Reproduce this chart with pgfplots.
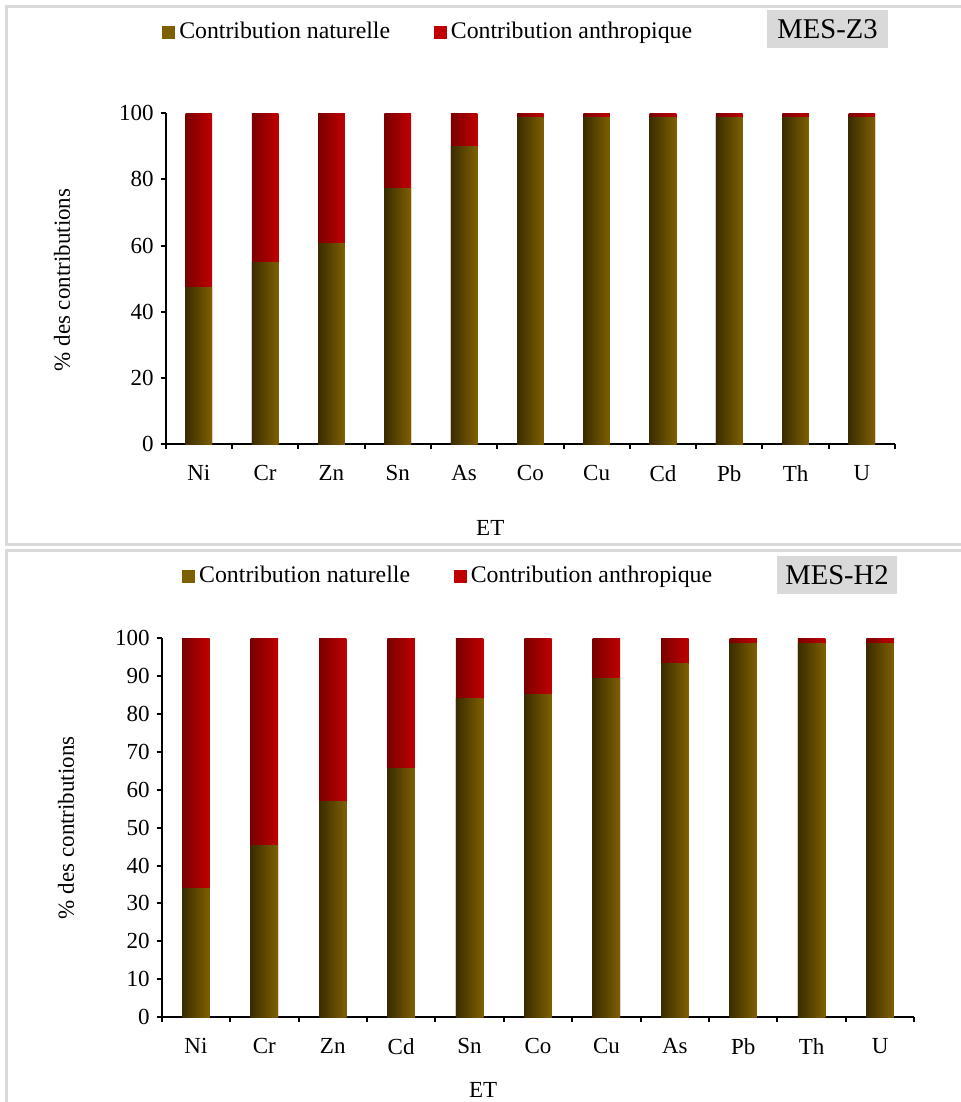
\documentclass[border=0pt]{standalone}
\usepackage{pgfplots}
\pgfplotsset{compat=1.18}
\usepackage{fontspec}
\setmainfont{Liberation Serif}
\definecolor{nat}{HTML}{7F6000}
\definecolor{natdark}{HTML}{3A2C00}
\definecolor{natlight}{HTML}{9E7E1E}
\definecolor{ant}{HTML}{C00000}
\definecolor{antdark}{HTML}{7A0000}
\definecolor{antlight}{HTML}{E61818}
\definecolor{framegray}{HTML}{D9D9D9}
\definecolor{boxgray}{HTML}{D9D9D9}

\pgfplotsset{
  mystyle/.style={
    scale only axis,
    axis lines*=left,
    xmin=-0.5, xmax=10.5, ymin=0, ymax=100,
    xtick={-0.5,0.5,1.5,2.5,3.5,4.5,5.5,6.5,7.5,8.5,9.5,10.5},
    x tick label as interval,
    tick align=outside,
    major tick length=2.5pt,
    axis line style={line width=1pt, black},
    tick style={black, line width=1pt},
    tick label style={font=\fontsize{11.5}{13}\selectfont},
    xticklabel style={yshift=-4.5pt},
    label style={font=\fontsize{11.5}{13}\selectfont},
    /pgf/number format/assume math mode=true,
    legend columns=2,
    legend style={draw=none, fill=none, inner sep=0pt, anchor=west,
      font=\fontsize{11.9}{13}\selectfont,
      /tikz/every even column/.append style={column sep=20pt}},
  },
  natbar/.style={ybar, bar shift=0pt, draw=none, left color=natdark, middle color=natlight, right color=nat, forget plot},
  antbar/.style={ybar, bar shift=0pt, draw=none, left color=antdark, middle color=antlight, right color=ant, forget plot},
}
% #1 = category position, #2 = total (naturelle + anthropique), #3 = naturelle
\newcommand\cyl[3]{%
  \addplot[antbar] coordinates {(#1,#2)};
  \addplot[natbar] coordinates {(#1,#3)};
}

\begin{document}
\begin{tikzpicture}
\useasboundingbox (0,0) rectangle (480pt,-551pt);
\draw[line width=1.5pt, framegray] (3pt,-3.5pt) rectangle (495pt,-272pt);
\draw[line width=1.5pt, framegray] (3pt,-275pt) rectangle (495pt,-565pt);

\begin{axis}[mystyle,
  at={(82.85pt,-222pt)}, anchor=south west,
  width=364.65pt, height=165.35pt,
  bar width=13.3pt,
  ytick={0,20,40,60,80,100},
  xticklabels={Ni,Cr,Zn,Sn,As,Co,Cu,Cd,Pb,Th,U},
  xlabel={ET}, ylabel={\% des contributions},
  xlabel style={at={(axis description cs:0.445,0)}, anchor=center, yshift=-42pt},
  ylabel style={at={(axis description cs:0,0.496)}, anchor=center, yshift=51.8pt},
  legend style={at={(axis description cs:-0.005,1.246)}},
]
% MES-Z3: Ni Cr Zn Sn As Co Cu Cd Pb Th U (naturelle %, anthropique = 100 - naturelle)
\cyl{0}{100}{47.4}
\cyl{1}{100}{54.8}
\cyl{2}{100}{60.5}
\cyl{3}{100}{77.3}
\cyl{4}{100}{90.0}
\cyl{5}{100}{98.7}
\cyl{6}{100}{98.7}
\cyl{7}{100}{98.7}
\cyl{8}{100}{98.7}
\cyl{9}{100}{98.7}
\cyl{10}{100}{98.7}
\addlegendimage{legend image code/.code={\fill[nat] (0pt,-3pt) rectangle (6pt,3pt);}}
\addlegendentry{Contribution naturelle}
\addlegendimage{legend image code/.code={\fill[ant] (0pt,-3pt) rectangle (6pt,3pt);}}
\addlegendentry{Contribution anthropique}
\end{axis}
\node[fill=boxgray, minimum width=60.5pt, minimum height=19pt, inner sep=0pt,
  font=\fontsize{14.3}{16}\selectfont] at (413.75pt,-14.5pt) {MES-Z3};

\begin{axis}[mystyle,
  at={(80.85pt,-508.5pt)}, anchor=south west,
  width=376.3pt, height=189.35pt,
  bar width=13.7pt,
  ytick={0,10,20,30,40,50,60,70,80,90,100},
  xticklabels={Ni,Cr,Zn,Cd,Sn,Co,Cu,As,Pb,Th,U},
  xlabel={ET}, ylabel={\% des contributions},
  xlabel style={at={(axis description cs:0.427,0)}, anchor=center, yshift=-36.5pt},
  ylabel style={at={(axis description cs:0,0.5)}, anchor=center, yshift=47.8pt},
  legend style={at={(axis description cs:0.027,1.1645)}},
]
% MES-H2: Ni Cr Zn Cd Sn Co Cu As Pb Th U
\cyl{0}{100}{33.9}
\cyl{1}{100}{45.2}
\cyl{2}{100}{56.9}
\cyl{3}{100}{65.5}
\cyl{4}{100}{84.1}
\cyl{5}{100}{85.2}
\cyl{6}{100}{89.5}
\cyl{7}{100}{93.3}
\cyl{8}{100}{98.7}
\cyl{9}{100}{98.7}
\cyl{10}{100}{98.7}
\addlegendimage{legend image code/.code={\fill[nat] (0pt,-3pt) rectangle (6pt,3pt);}}
\addlegendentry{Contribution naturelle}
\addlegendimage{legend image code/.code={\fill[ant] (0pt,-3pt) rectangle (6pt,3pt);}}
\addlegendentry{Contribution anthropique}
\end{axis}
\node[fill=boxgray, minimum width=60pt, minimum height=19pt, inner sep=0pt,
  font=\fontsize{14.3}{16}\selectfont] at (418.5pt,-287.5pt) {MES-H2};
\end{tikzpicture}
\end{document}
